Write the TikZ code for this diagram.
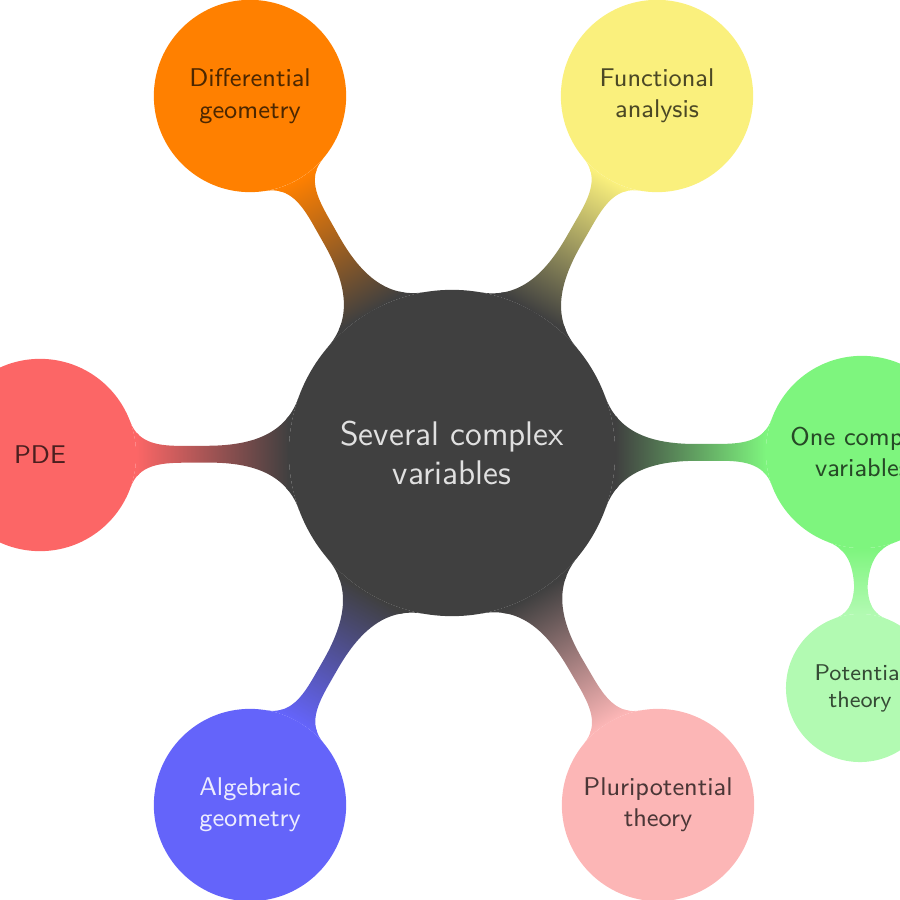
\documentclass[tikz,border=0pt]{standalone}
\usetikzlibrary{mindmap,shadings,decorations,backgrounds}
\definecolor{rootcol}{RGB}{64,64,64}
\definecolor{dgcol}{RGB}{255,128,0}
\definecolor{facol}{RGB}{250,240,125}
\definecolor{pdecol}{RGB}{252,102,102}
\definecolor{ocvcol}{RGB}{126,245,126}
\definecolor{potcol}{RGB}{178,250,178}
\definecolor{agcol}{RGB}{100,100,250}
\definecolor{ppcol}{RGB}{252,182,182}
\begin{document}
\begin{tikzpicture}[x=0.0123457cm, y=-0.0123457cm,
  rootc/.style={circle, inner sep=0pt, minimum size=4cm, align=center,
    font=\large\sffamily, fill=rootcol, draw=rootcol, line width=0.8pt,
    text=white!88!black},
  lvlone/.style={circle, inner sep=0pt, minimum size=2.3457cm, align=center,
    font=\small\sffamily, fill=#1, draw=#1, line width=0.8pt, text=#1!30!black},
  lvltwo/.style={circle, inner sep=0pt, minimum size=1.8cm, align=center,
    font=\footnotesize\sffamily, fill=#1, draw=#1, line width=0.8pt,
    text=#1!30!black},
  bar/.style args={#1 to #2}{line width=5.5pt,
    circle connection bar switch color=from (#1) to (#2)}]
\useasboundingbox (0,0) rectangle (900,900);
\node[rootc] (root) at (452,453) {Several complex\\variables};
\node[lvlone=dgcol] (dg) at (250,96) {Differential\\geometry};
\node[lvlone=facol] (fa) at (657,96) {Functional\\analysis};
\node[lvlone=pdecol] (pde) at (40,455) {PDE};
\node[lvlone=ocvcol] (ocv) at (862,452) {One complex\\variables};
\node[lvltwo=potcol] (pot) at (860,688) {Potential\\theory};
\node[lvlone=agcol, text=agcol!12] (ag) at (250,805) {Algebraic\\geometry};
\node[lvlone=ppcol] (pp) at (658,805) {Pluripotential\\theory};
\begin{pgfonlayer}{background}
\path (root) to[bar=rootcol to dgcol] (dg);
\path (root) to[bar=rootcol to facol] (fa);
\path (root) to[bar=rootcol to pdecol] (pde);
\path (root) to[bar=rootcol to ocvcol] (ocv);
\path (root) to[bar=rootcol to agcol] (ag);
\path (root) to[bar=rootcol to ppcol] (pp);
\path (ocv) to[bar=ocvcol to potcol] (pot);
\end{pgfonlayer}
\end{tikzpicture}
\end{document}
